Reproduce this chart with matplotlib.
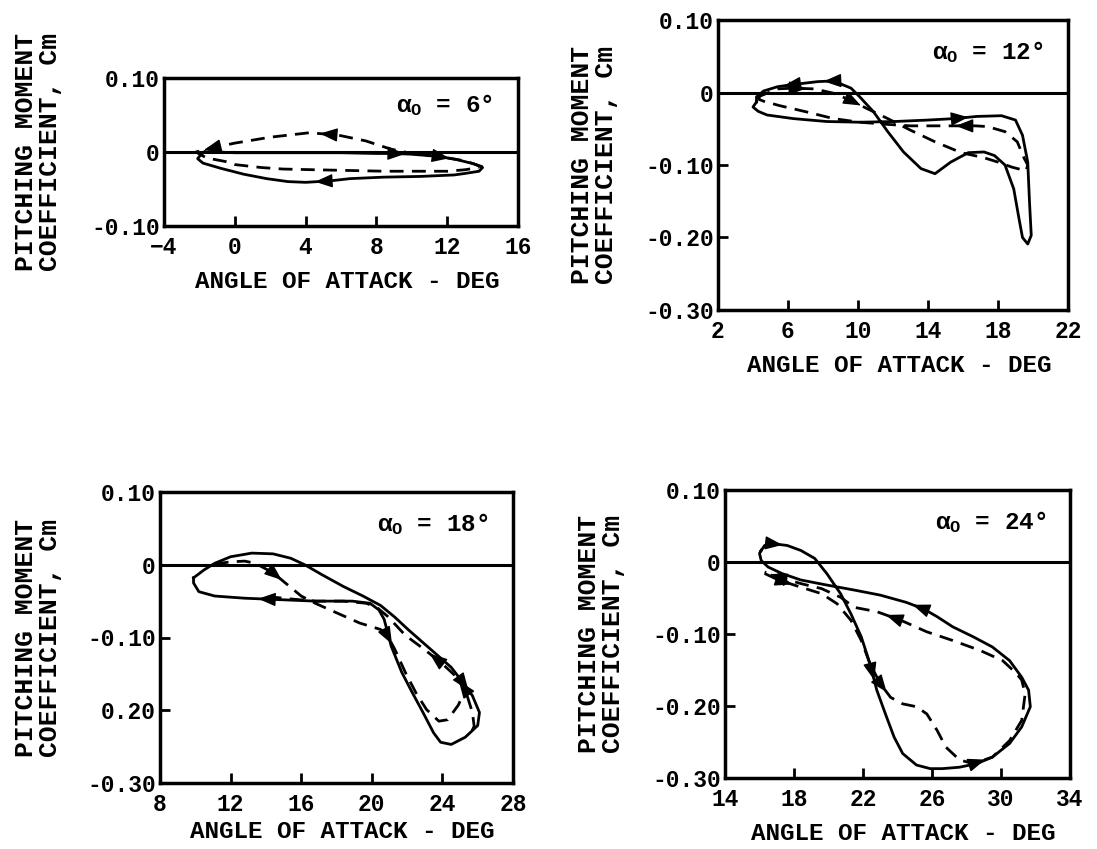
import numpy as np
import matplotlib
matplotlib.use("Agg")
import matplotlib.pyplot as plt

plt.rcParams['font.family'] = ['Liberation Mono', 'DejaVu Sans']
plt.rcParams['font.weight'] = 'bold'
plt.rcParams['mathtext.fontset'] = 'custom'
plt.rcParams['mathtext.rm'] = 'Liberation Mono:bold'
plt.rcParams['mathtext.it'] = 'Liberation Mono:bold'

# %%
# alpha_0 = 6 deg
p1_solid_x = [-1.7, -1.0, 0, 2, 4, 6, 8, 9, 10, 11.5, 12.5, 13.5, 14.0, 13.8, 13.0, 12.4, 10.5,
              8.4, 6.5, 5.4, 4.0, 3.0, 1.8, 0.5, -0.8, -1.8, -2.1, -1.9, -1.7]
p1_solid_y = [0.0, 0.0, -0.001, -0.001, -0.001, -0.001, -0.002, -0.002, -0.003, -0.006, -0.01,
              -0.016, -0.021, -0.026, -0.029, -0.031, -0.033, -0.034, -0.036, -0.039, -0.041,
              -0.040, -0.036, -0.030, -0.022, -0.015, -0.009, -0.003, 0.0]
p1_dash_x = [14.0, 13.0, 11.5, 10.0, 8.8, 7.4, 5.8, 4.2, 2.0, 0.0, -1.0, -2.2, -1.6, -0.5, 0.0,
             1.5, 2.7, 4.5, 6.5, 8.5, 10.2, 12.0, 13.0, 13.8]
p1_dash_y = [-0.02, -0.012, -0.006, -0.002, 0.004, 0.015, 0.023, 0.026, 0.02, 0.012, 0.007, 0.0,
             -0.008, -0.013, -0.017, -0.021, -0.023, -0.024, -0.025, -0.026, -0.026, -0.026,
             -0.024, -0.021]
p1_arrows_solid = [7, 9, 19]
p1_arrows_dash = [6, 10]

# alpha_0 = 12 deg
p2_solid_x = [4.2, 4.0, 4.3, 4.8, 6.3, 8.2, 10.1, 12.1, 14.0, 15.5, 16.8, 18.2, 19.0, 19.4, 19.7,
              19.8, 19.9, 19.7, 19.4, 19.2, 18.9, 18.4, 17.8, 17.2, 16.3, 15.3, 14.4, 13.6, 12.6,
              11.7, 10.9, 10.1, 9.6, 8.6, 7.7, 6.3, 5.4, 4.6, 4.2, 4.2]
p2_solid_y = [-0.013, -0.02, -0.026, -0.031, -0.036, -0.04, -0.041, -0.04, -0.038, -0.036, -0.033,
              -0.032, -0.038, -0.059, -0.096, -0.151, -0.197, -0.209, -0.2, -0.174, -0.133, -0.1,
              -0.087, -0.082, -0.083, -0.096, -0.112, -0.105, -0.082, -0.054, -0.027, -0.006,
              0.006, 0.016, 0.015, 0.011, 0.008, 0.002, -0.006, -0.013]
p2_dash_x = [4.3, 4.4, 5.4, 6.3, 7.5, 8.6, 9.6, 10.5, 11.7, 13.0, 14.4, 15.9, 17.2, 18.0, 18.8,
             19.6, 19.7, 19.5, 19.1, 18.4, 17.4, 16.7, 14.9, 13.0, 11.7, 10.1, 8.6, 7.1, 5.5, 4.6,
             4.3]
p2_dash_y = [-0.009, -0.005, 0.005, 0.006, 0.005, -0.001, -0.011, -0.022, -0.036, -0.052, -0.068,
             -0.083, -0.09, -0.096, -0.103, -0.108, -0.1, -0.091, -0.068, -0.054, -0.047, -0.046,
             -0.046, -0.046, -0.044, -0.041, -0.036, -0.027, -0.018, -0.012, -0.009]
p2_arrows_solid = [9, 33, 35]
p2_arrows_dash = [3, 6, 21]

# alpha_0 = 18 deg
p3_solid_x = [9.9, 10.5, 11.1, 12.0, 13.2, 14.4, 15.4, 16.2, 17.2, 18.4, 19.5, 20.5, 21.3, 22.1,
              22.9, 23.7, 24.5, 25.1, 25.7, 26.1, 26.0, 25.3, 24.5, 23.9, 23.5, 22.9, 22.3, 21.7,
              21.1, 20.7, 20.4, 19.9, 18.9, 16.8, 14.8, 12.8, 11.1, 10.2, 9.9, 9.9]
p3_solid_y = [-0.018, -0.007, 0.002, 0.011, 0.016, 0.015, 0.009, 0.0, -0.014, -0.03, -0.043,
              -0.056, -0.072, -0.09, -0.107, -0.124, -0.141, -0.16, -0.18, -0.203, -0.221, -0.237,
              -0.247, -0.244, -0.231, -0.203, -0.176, -0.148, -0.112, -0.075, -0.062, -0.053,
              -0.05, -0.05, -0.048, -0.046, -0.043, -0.037, -0.025, -0.018]
p3_dash_x = [11.1, 12.0, 12.8, 13.4, 14.4, 15.2, 16.0, 16.8, 18.0, 19.3, 20.5, 20.9, 21.3, 21.9,
             22.5, 23.1, 23.8, 24.3, 24.9, 25.3, 24.7, 23.9, 22.9, 21.9, 20.9, 20.3, 19.7, 18.4,
             16.8, 15.4, 14.2, np.nan, 25.4, 25.7, 25.8, 25.6]
p3_dash_y = [0.001, 0.004, 0.005, 0.002, -0.011, -0.027, -0.043, -0.053, -0.066, -0.08, -0.089,
             -0.098, -0.116, -0.148, -0.176, -0.199, -0.215, -0.213, -0.193, -0.172, -0.152, -0.134,
             -0.115, -0.097, -0.071, -0.059, -0.053, -0.05, -0.05, -0.047, -0.044, np.nan, -0.18,
             -0.203, -0.222, -0.232]
p3_arrows_solid = [34, 17]
p3_arrows_dash = [4, 11, 19, 21]

# alpha_0 = 24 deg
p4_solid_x = [16.1, 16.3, 16.9, 17.6, 18.4, 19.2, 19.9, 20.7, 21.3, 21.9, 22.4, 22.8, 23.3, 23.8,
              24.3, 25.1, 25.9, 26.6, 27.6, 28.6, 29.5, 30.5, 31.2, 31.7, 31.6, 31.2, 30.5, 29.5,
              28.4, 27.2, 26.3, 25.5, 24.5, 23.0, 21.5, 19.9, 18.4, 17.3, 16.5, 16.1, 16.0, 16.1]
p4_solid_y = [0.016, 0.023, 0.025, 0.023, 0.016, 0.005, -0.016, -0.044, -0.072, -0.104, -0.141,
              -0.178, -0.211, -0.243, -0.266, -0.282, -0.287, -0.287, -0.285, -0.28, -0.271,
              -0.252, -0.229, -0.201, -0.178, -0.16, -0.137, -0.118, -0.104, -0.09, -0.076, -0.065,
              -0.056, -0.046, -0.039, -0.032, -0.025, -0.016, -0.007, 0.002, 0.012, 0.016]
p4_dash_x = [16.3, 17.1, 18.4, 19.6, 20.5, 21.3, 21.9, 22.4, 23.0, 23.6, 24.3, 25.1, 25.7, 26.3,
             26.8, 27.6, 28.4, 29.5, 30.5, 31.2, 31.4, 31.2, 30.9, 30.1, 28.8, 27.2, 25.7, 24.2,
             22.8, 21.5, 20.7, 19.6, 18.4, 17.1, 16.3]
p4_dash_y = [-0.016, -0.025, -0.035, -0.044, -0.058, -0.081, -0.109, -0.141, -0.169, -0.188, -0.197,
             -0.201, -0.211, -0.234, -0.257, -0.275, -0.28, -0.271, -0.248, -0.22, -0.183, -0.164,
             -0.155, -0.137, -0.123, -0.109, -0.097, -0.081, -0.069, -0.063, -0.049, -0.037,
             -0.03, -0.021, -0.014]
p4_arrows_solid = [2, 31, 10]
p4_arrows_dash = [1, 8, 16, 27, 33]

panels = [
    dict(alpha="6", xlim=(-4, 16), xticks=[-4, 0, 4, 8, 12, 16],
         ylim=(-0.10, 0.10), yticks=[-0.10, 0, 0.10], ylabels=["-0.10", "0", "0.10"],
         solid=(p1_solid_x, p1_solid_y, p1_arrows_solid), dash=(p1_dash_x, p1_dash_y, p1_arrows_dash),
         box=(164, 78, 518, 226), ylab_x=38, xlab_y=282, txt_y=0.82),
    dict(alpha="12", xlim=(2, 22), xticks=[2, 6, 10, 14, 18, 22],
         ylim=(-0.30, 0.10), yticks=[-0.30, -0.20, -0.10, 0, 0.10],
         ylabels=["-0.30", "-0.20", "-0.10", "0", "0.10"],
         solid=(p2_solid_x, p2_solid_y, p2_arrows_solid), dash=(p2_dash_x, p2_dash_y, p2_arrows_dash),
         box=(718, 20, 1068, 310), ylab_x=594, xlab_y=366, txt_y=0.89),
    dict(alpha="18", xlim=(8, 28), xticks=[8, 12, 16, 20, 24, 28],
         ylim=(-0.30, 0.10), yticks=[-0.30, -0.20, -0.10, 0, 0.10],
         ylabels=["-0.30", "0.20", "-0.10", "0", "0.10"],
         solid=(p3_solid_x, p3_solid_y, p3_arrows_solid), dash=(p3_dash_x, p3_dash_y, p3_arrows_dash),
         box=(160, 492, 513, 783), ylab_x=38, xlab_y=832, txt_y=0.89),
    dict(alpha="24", xlim=(14, 34), xticks=[14, 18, 22, 26, 30, 34],
         ylim=(-0.30, 0.10), yticks=[-0.30, -0.20, -0.10, 0, 0.10],
         ylabels=["-0.30", "-0.20", "-0.10", "0", "0.10"],
         solid=(p4_solid_x, p4_solid_y, p4_arrows_solid), dash=(p4_dash_x, p4_dash_y, p4_arrows_dash),
         box=(725, 490, 1070, 778), ylab_x=601, xlab_y=833, txt_y=0.89),
]

W, H = 1097, 849


def add_arrows(ax, xs, ys, idxs):
    for i in idxs:
        x0, y0, x1, y1 = xs[i], ys[i], xs[i+1], ys[i+1]
        ax.annotate('', xy=(x0 + 0.62*(x1-x0), y0 + 0.62*(y1-y0)),
                    xytext=(x0 + 0.5*(x1-x0), y0 + 0.5*(y1-y0)),
                    arrowprops=dict(arrowstyle='-|>,head_length=0.9,head_width=0.35',
                                    color='k', lw=1, mutation_scale=12,
                                    shrinkA=0, shrinkB=0))


fig = plt.figure(figsize=(W/100, H/100), dpi=100)
for p in panels:
    l, t, r, b = p["box"]
    ax = fig.add_axes([l/W, 1 - b/H, (r-l)/W, (b-t)/H])
    sx, sy, sa = p["solid"]
    dx, dy, da = p["dash"]
    ax.axhline(0, color='k', lw=2.2)
    ax.plot(sx, sy, color='k', lw=2)
    ax.plot(dx, dy, color='k', lw=2, dashes=(5, 3))
    add_arrows(ax, sx, sy, sa)
    add_arrows(ax, dx, dy, da)
    ax.set_xlim(*p["xlim"])
    ax.set_ylim(*p["ylim"])
    ax.set_xticks(p["xticks"])
    ax.set_yticks(p["yticks"])
    ax.set_yticklabels(p["ylabels"])
    ax.tick_params(direction='in', length=7, width=2, labelsize=16.5)
    ax.tick_params(axis='x', pad=7)
    ax.tick_params(axis='y', pad=3)
    for s in ax.spines.values():
        s.set_linewidth(2.5)
    ax.text(0.93, p["txt_y"], r"$\alpha_{\rm O}$ = " + p["alpha"] + "°", transform=ax.transAxes,
            ha='right', va='center', fontsize=17.5)
    fig.text(((l+r)/2 + 6)/W, 1 - p["xlab_y"]/H, "ANGLE OF ATTACK - DEG",
             ha='center', va='center', fontsize=17.5)
    fig.text(p["ylab_x"]/W, 1 - (t+b)/2/H, "PITCHING MOMENT\nCOEFFICIENT, Cm", rotation=90,
             ha='center', va='center', fontsize=19, linespacing=0.95, multialignment='center')

fig.savefig("out.png", dpi=100)
